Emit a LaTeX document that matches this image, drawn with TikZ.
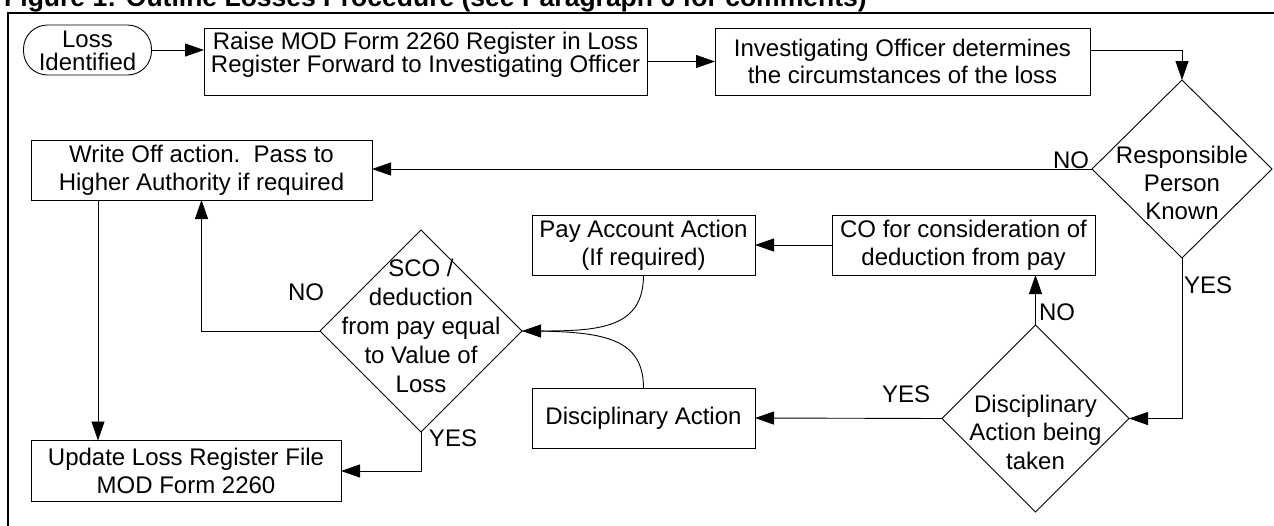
\documentclass[tikz,border=0pt]{standalone}
\usepackage{fontspec}
\setmainfont{Liberation Sans}
\usetikzlibrary{arrows.meta,shapes.geometric}
\tikzset{
  base/.style={font=\fontsize{24}{28}\selectfont, align=center, inner sep=0pt, outer sep=0pt},
  box/.style={base, draw, line width=0.9pt},
  dia/.style={base, draw, diamond, line width=0.9pt},
  txt/.style={base},
  lbl/.style={base},
  conn/.style={line width=0.9pt},
  arr/.style={conn, -{Triangle[length=19pt,width=13pt]}},
}
\begin{document}
\begin{tikzpicture}[x=1pt,y=-1pt]
\useasboundingbox (0,0) rectangle (1274,525);
% title and frame
\node[anchor=base west, inner sep=0pt, font=\fontsize{26.5}{30}\selectfont\bfseries] (title) at (4,6) {Figure 1: Outline Losses Procedure (see Paragraph 6 for comments)};
\draw[line width=2.2pt] (8,560) -- (8,13) -- (1300,13);
% top row
\node[box, rounded corners=24pt, minimum width=128pt, minimum height=50pt] (loss) at (87.5,50) {};
\node[txt, font=\fontsize{24}{22.5}\selectfont] (losst) at (87.5,51) {Loss\\Identified};
\node[box, minimum width=443pt, minimum height=67pt] (raise) at (425.5,61.5) {};
\node[txt, font=\fontsize{24}{23}\selectfont] (raiset) at (425.5,55) {Raise MOD Form 2260 Register in Loss\\Register Forward to Investigating Officer};
\node[box, minimum width=375pt, minimum height=67pt, font=\fontsize{24}{27}\selectfont] (invest) at (902.5,61.5) {Investigating Officer determines\\the circumstances of the loss};
% decisions
\node[dia, minimum width=180pt, minimum height=178pt] (resp) at (1182,169) {};
\node[txt] (respt) at (1182,183) {Responsible\\Person\\Known};
\node[dia, minimum width=202pt, minimum height=202pt] (sco) at (421,331) {};
\node[txt, font=\fontsize{24}{29}\selectfont] (scot) at (421,326) {SCO /\\deduction\\from pay equal\\to Value of\\Loss};
\node[dia, minimum width=187pt, minimum height=187pt] (discd) at (1035.5,418.5) {};
\node[txt, font=\fontsize{24}{28.5}\selectfont] (discdt) at (1035.5,432) {Disciplinary\\Action being\\taken};
% boxes
\node[box, minimum width=341pt, minimum height=60pt] (writeoff) at (201.5,170) {Write Off action.\ \ Pass to\\Higher Authority if required};
\node[box, minimum width=223pt, minimum height=60pt] (pay) at (643.5,245) {Pay Account Action\\(If required)};
\node[box, minimum width=263pt, minimum height=60pt] (co) at (963.5,245) {CO for consideration of\\deduction from pay};
\node[box, minimum width=223pt, minimum height=60pt] (discbox) at (643.5,418) {Disciplinary Action};
\node[box, minimum width=310pt, minimum height=61pt] (update) at (186,471) {Update Loss Register File\\MOD Form 2260};
\coordinate (wx) at (98,0);
% connectors
\draw[arr] (loss.east) -- (loss.east -| raise.west);
\draw[arr] (raise.east) -- (invest.west);
\draw[arr] ([yshift=11.5pt]invest.east) -| (resp.north);
\draw[arr] (resp.west) -- (resp.west -| writeoff.east);
\draw[arr] (resp.south) |- (discd.east);
\draw[arr] (discd.west) -- (discbox.east);
\draw[arr] (discd.north) -- (discd.north |- co.south);
\draw[arr] (co.west) -- (pay.east);
\draw[arr] (pay.south) .. controls (643.5,328) and (600,331) .. (sco.east);
\draw[conn] (discbox.north) .. controls (643.5,336) and (600,331) .. (sco.east);
\draw[arr] (sco.west) -| (writeoff.south);
\draw[arr] (sco.south) |- (update.east);
\draw[arr] (writeoff.south -| wx) -- (update.north -| wx);
% labels
\node[lbl] (l1) at (1071,160) {NO};
\node[lbl] (l2) at (1208,285) {YES};
\node[lbl] (l3) at (906,394) {YES};
\node[lbl] (l4) at (1057,312) {NO};
\node[lbl] (l5) at (306,292) {NO};
\node[lbl] (l6) at (453,438) {YES};
\end{tikzpicture}
\end{document}
